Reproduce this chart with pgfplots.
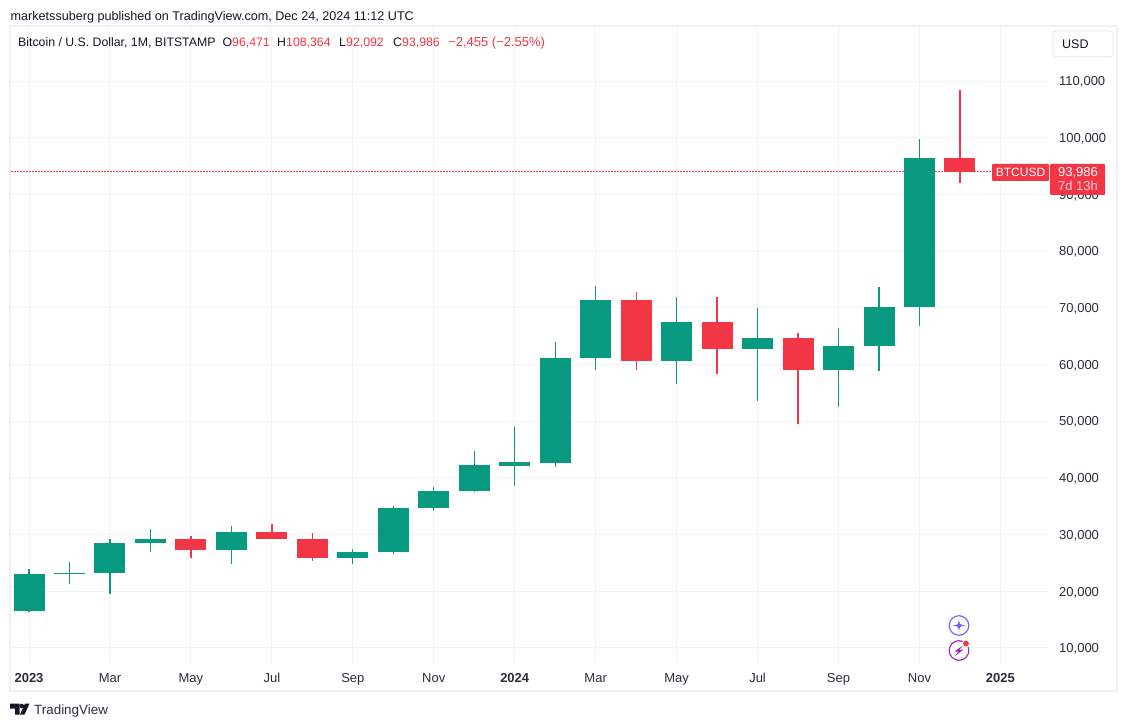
\documentclass[border=0pt]{standalone}
\usepackage{fontspec}
\setmainfont{Liberation Sans}
\usepackage{pgfplots}
\usepackage{pgfplotstable}
\pgfplotsset{compat=1.18}

\definecolor{tvgreen}{HTML}{089981}
\definecolor{tvred}{HTML}{F23645}
\definecolor{tvgrid}{HTML}{F2F3F5}
\definecolor{tvframe}{HTML}{F0F1F6}
\definecolor{tvtext}{HTML}{2A2E39}
\definecolor{tvdark}{HTML}{131722}
\definecolor{tvviolet}{HTML}{7A5CFF}
\definecolor{tvpurple}{HTML}{9C27B0}

% monthly candles, x = months since Jan 2023
\pgfplotstableread{
i  open  high  low   close
0  16530 23960 16500 23130
1  23050 25250 21350 23230
2  23140 29190 19550 28470
3  28470 31040 26940 29240
5  27210 31430 24800 30470
8  25940 27480 24900 26960
9  26960 35000 26530 34650
10 34650 38400 34100 37720
11 37720 44700 37610 42270
12 42150 48950 38500 42780
13 42580 64000 41880 61170
14 61170 73800 59000 71300
16 60640 71950 56500 67500
18 62700 70000 53500 64600
20 58970 66500 52550 63300
21 63300 73600 58900 70200
22 70200 99800 66800 96470
}\upcandles
\pgfplotstableread{
i  open   high   low   close
4  29240  29830  25860 27210
6  30470  31800  29510 29230
7  29230  30220  25310 25940
15 71300  72750  59100 60640
17 67500  71960  58400 62700
19 64600  65600  49500 58970
23 96471  108364 92092 93986
}\downcandles

\newcommand{\lab}[5][base west]{\node[anchor=#1,inner sep=0pt,text=#4,font=\fontsize{#5}{#5}\selectfont] at (#2,726-#3)}

\begin{document}
\begin{tikzpicture}[x=1pt,y=1pt]
\fill[white] (0,0) rectangle (1127,726);
\draw[tvframe,line width=2pt] (10,726-26.5) rectangle (1117,726-690.5);
\begin{axis}[
  at={(11pt,63pt)}, anchor=south west,
  scale only axis, width=1038pt, height=636pt,
  xmin=-0.445, xmax=25.2, ymin=7354, ymax=119526,
  axis line style={draw=none},
  major tick length=0pt,
  grid=major, grid style={tvgrid,line width=1pt},
  ytick={10000,20000,...,110000},
  scaled y ticks=false,
  yticklabels={{10,000},{20,000},{30,000},{40,000},{50,000},{60,000},{70,000},{80,000},{90,000},{100,000},{110,000}},
  yticklabel pos=right,
  yticklabel style={anchor=west,inner sep=0pt,xshift=10pt,yshift=-1pt,text=tvtext,font=\fontsize{13}{13}\selectfont},
  xtick={0,2,...,24},
  xticklabels={\textbf{2023},Mar,May,Jul,Sep,Nov,\textbf{2024},Mar,May,Jul,Sep,Nov,\textbf{2025}},
  xticklabel style={text=tvtext,font=\fontsize{13}{13}\selectfont,anchor=base,yshift=-19pt},
  clip=true,
]
% last price line
\addplot[tvred,line width=1.3pt,dash pattern=on 1.5pt off 1.5pt,forget plot] coordinates {(-0.445,93986) (23.8,93986)};
% wicks
\addplot[draw=none,forget plot,error bars/.cd,y dir=both,y explicit,error mark=none,
  error bar style={tvgreen,line width=1.3pt}]
  table[x=i,y=open,y error plus expr=\thisrow{high}-\thisrow{open},y error minus expr=\thisrow{open}-\thisrow{low}] {\upcandles};
\addplot[draw=none,forget plot,error bars/.cd,y dir=both,y explicit,error mark=none,
  error bar style={tvred,line width=1.3pt}]
  table[x=i,y=open,y error plus expr=\thisrow{high}-\thisrow{open},y error minus expr=\thisrow{open}-\thisrow{low}] {\downcandles};
% bodies
\addplot[draw=none,forget plot,error bars/.cd,y dir=plus,y explicit,error mark=none,
  error bar style={tvgreen,line width=31pt}]
  table[x=i,y=open,y error plus expr=\thisrow{close}-\thisrow{open}] {\upcandles};
\addplot[draw=none,forget plot,error bars/.cd,y dir=plus,y explicit,error mark=none,
  error bar style={tvred,line width=31pt}]
  table[x=i,y=close,y error plus expr=\thisrow{open}-\thisrow{close}] {\downcandles};
\end{axis}

% header
\lab{10.5}{21}{tvdark}{12.6}{marketssuberg published on TradingView.com, Dec 24, 2024 11:12 UTC};
\lab{18}{47}{tvdark}{12.3}{Bitcoin / U.S. Dollar, 1M, BITSTAMP};
\lab{222.5}{47}{tvdark}{12.3}{O};
\lab{232}{47}{tvred}{12.3}{96,471};
\lab{277}{47}{tvdark}{12.3}{H};
\lab{286}{47}{tvred}{12.3}{108,364};
\lab{339}{47}{tvdark}{12.3}{L};
\lab{346}{47}{tvred}{12.3}{92,092};
\lab{393}{47}{tvdark}{12.3}{C};
\lab{402}{47}{tvred}{12.3}{93,986};
\lab{448}{47}{tvred}{13}{−2,455 (−2.55\%)};

% currency button
\draw[tvframe!80!gray!60,fill=white,line width=1pt,rounded corners=3pt] (1053,726-31) rectangle (1113,726-57);
\lab{1062}{48.5}{tvdark}{12.5}{USD};

% last price labels
\fill[tvred,rounded corners=1pt] (992,726-164) rectangle (1049,726-181);
\fill[tvred,rounded corners=1pt] (1050,726-164) rectangle (1105,726-195);
\lab[base]{1020.5}{177}{white}{12}{BTCUSD};
\lab[base]{1078}{176.5}{white}{13}{93,986};
\lab[base]{1078}{190.5}{white!75!tvred}{13}{7d 13h};

% chart icons
\draw[tvviolet,line width=1.1pt] (959,726-625.5) circle (9.8);
\fill[tvviolet] (959,726-619) .. controls (959.7,726-624.8) .. (965.5,726-625.5)
  .. controls (959.7,726-626.2) .. (959,726-632) .. controls (958.3,726-626.2) .. (952.5,726-625.5)
  .. controls (958.3,726-624.8) .. cycle;
\draw[tvpurple,line width=1.1pt] (959,726-650.5) circle (9.8);
\fill[tvpurple] (963,726-645.5) -- (954.5,726-651.5) -- (958.5,726-651.5) -- (955,726-656) -- (963.5,726-649.5) -- (959.5,726-649.5) -- cycle;
\fill[white] (966,726-643.5) circle (4.2);
\fill[tvred] (966,726-643.5) circle (2.9);

% footer logo
\fill[tvdark] (10,726-703.5) -- (19.5,726-703.5) -- (19.5,726-714.5) -- (15,726-714.5) -- (15,726-708.5) -- (10,726-708.5) -- cycle;
\fill[tvdark] (21.8,726-706) circle (2.3);
\fill[tvdark] (25,726-703.5) -- (29.5,726-703.5) -- (24.5,726-714.5) -- (20,726-714.5) -- cycle;
\lab{34}{714.5}{tvtext}{13.4}{TradingView};
\end{tikzpicture}
\end{document}
